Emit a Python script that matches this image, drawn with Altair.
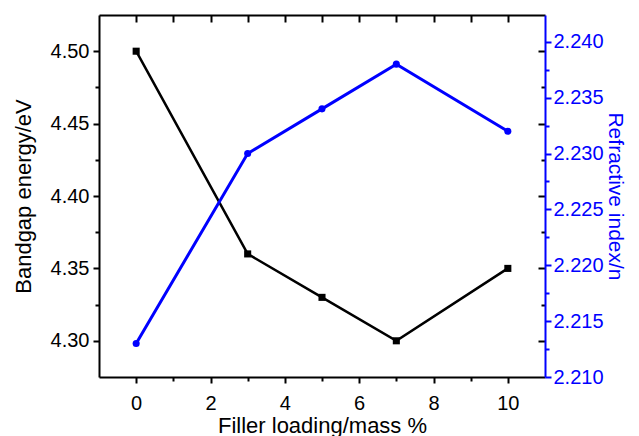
import altair as alt
import pandas as pd

# ---- data ----
loading = [0, 3, 5, 7, 10]
bandgap = [4.50, 4.36, 4.33, 4.30, 4.35]
refractive = [2.213, 2.230, 2.234, 2.238, 2.232]

x_major = [0, 2, 4, 6, 8, 10]
x_minor = [1, 3, 5, 7, 9]
x_top = [0, 1, 2, 3, 4, 5, 6, 7, 8, 9, 10]
left_major = [4.30, 4.35, 4.40, 4.45, 4.50]
left_minor = [4.325, 4.375, 4.425, 4.475]
right_major = [2.210, 2.215, 2.220, 2.225, 2.230, 2.235, 2.240]
right_minor = [2.2125, 2.2175, 2.2225, 2.2275, 2.2325, 2.2375]

df = pd.DataFrame({"loading": loading, "bandgap": bandgap, "refractive": refractive})

FONT = "Liberation Sans"
BLUE = "#0000ff"
XDOM = [-1, 11]
LDOM = [4.275, 4.525]
RDOM = [2.21, 2.2424]

base = alt.Chart(df)


def ax(**kw):
    d = dict(grid=False, domain=False, labels=False, ticks=True, title=None,
             tickColor="black", tickWidth=2)
    d.update(kw)
    return alt.Axis(**d)


def X(axis):
    return alt.X("loading:Q", scale=alt.Scale(domain=XDOM, nice=False, zero=False), axis=axis)


def YL(axis):
    return alt.Y("bandgap:Q", scale=alt.Scale(domain=LDOM, nice=False, zero=False), axis=axis)


def YR(axis):
    return alt.Y("refractive:Q", scale=alt.Scale(domain=RDOM, nice=False, zero=False), axis=axis)


# main black series, bottom x axis, left y axis
l1 = base.mark_line(
    color="black", strokeWidth=2.5,
    point=alt.OverlayMarkDef(shape="square", size=50, filled=True, color="black", opacity=1),
).encode(
    x=X(ax(values=x_major, labels=True, labelFont=FONT, labelFontSize=20, labelColor="black",
           tickSize=6, labelPadding=10, domain=True, domainColor="black", domainWidth=2,
           title="Filler loading/mass %", titleFont=FONT, titleFontSize=22,
           titleFontWeight="normal", titleColor="black", titlePadding=2, labelFlush=False)),
    y=YL(ax(orient="left", values=left_major, format=".2f", labels=True, labelFont=FONT,
            labelFontSize=20, labelColor="black", tickSize=6, labelPadding=4,
            domain=True, domainColor="black", domainWidth=2,
            title="Bandgap energy/eV", titleFont=FONT, titleFontSize=22,
            titleFontWeight="normal", titleColor="black", titlePadding=15, labelFlush=False)),
)

# main blue series, top frame line, right y axis
l2 = base.mark_line(
    color=BLUE, strokeWidth=3,
    point=alt.OverlayMarkDef(shape="circle", size=50, filled=True, color=BLUE, opacity=1),
).encode(
    x=X(ax(orient="top", ticks=False, domain=True, domainColor="black", domainWidth=2)),
    y=YR(ax(orient="right", values=right_major, format=".3f", labels=True, labelFont=FONT,
            labelFontSize=20, labelColor=BLUE, tickColor=BLUE, tickSize=6, labelPadding=2,
            domain=True, domainColor=BLUE, domainWidth=2,
            title="Refractive index/n", titleFont=FONT, titleFontSize=21,
            titleFontWeight="normal", titleColor=BLUE, titlePadding=1, labelFlush=False)),
)

# minor ticks bottom / left
l3 = base.mark_point(opacity=0).encode(
    x=X(ax(values=x_minor, tickSize=4)),
    y=YL(ax(orient="left", values=left_minor, tickSize=4)),
)

# inward ticks on top and black mirrored ticks on the right
l4 = base.mark_point(opacity=0).encode(
    x=X(ax(orient="top", values=x_top, tickSize=7, offset=-7)),
    y=YL(ax(orient="right", values=left_major, tickSize=7, offset=-7)),
)

l5 = base.mark_point(opacity=0).encode(
    x=X(None),
    y=YL(ax(orient="right", values=left_minor, tickSize=4, offset=-4)),
)

# blue minor ticks on the right
l6 = base.mark_point(opacity=0).encode(
    x=X(None),
    y=YR(ax(orient="right", values=right_minor, tickSize=4, tickColor=BLUE)),
)

chart = alt.layer(l3, l4, l5, l6, l1, l2).resolve_scale(
    x="independent", y="independent"
).properties(
    width=446, height=362,
    autosize=alt.AutoSizeParams(type="none"),
    padding={"left": 91, "top": 7, "right": 86, "bottom": 59},
).configure_view(stroke=None)

chart.save("out.html", embed_options={"renderer": "svg", "actions": False})
